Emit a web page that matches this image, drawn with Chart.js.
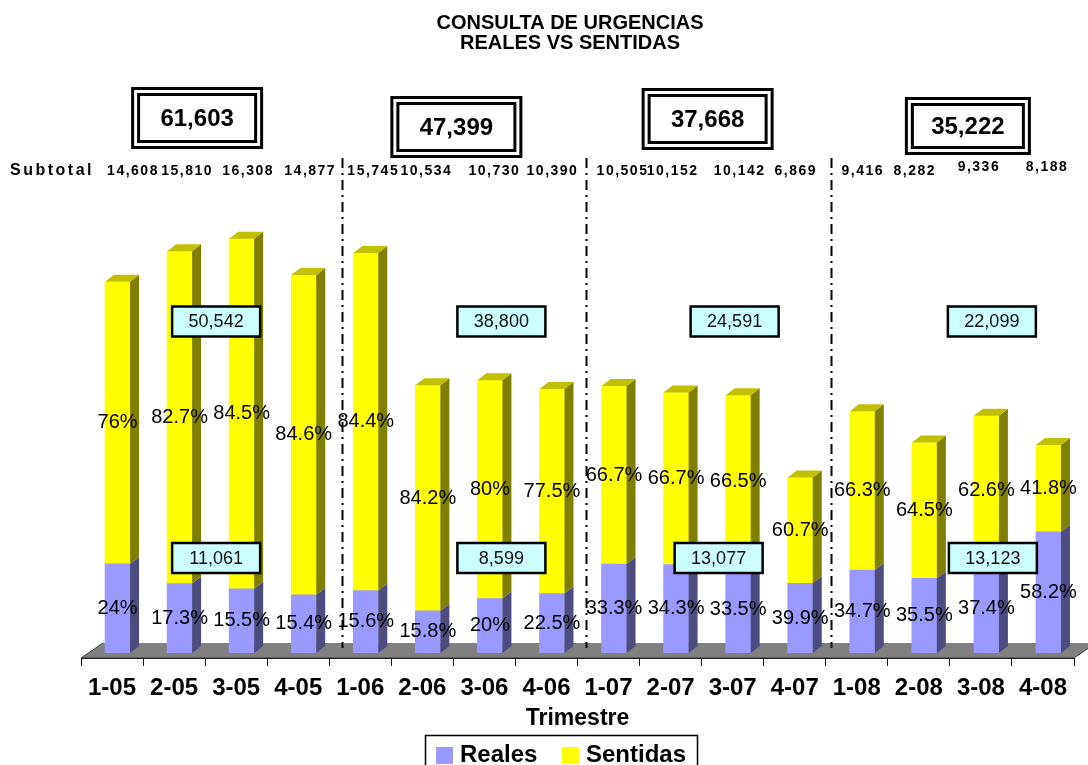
<!DOCTYPE html>
<html>
<head>
<meta charset="utf-8">
<script src="https://cdn.jsdelivr.net/npm/chart.js@4.4.1/dist/chart.umd.min.js"></script>
<style>
  html, body { margin: 0; padding: 0; background: #ffffff; overflow: hidden; }
  canvas { display: block; }
</style>
</head>
<body>
<canvas id="grafica" width="1088" height="765"></canvas>
<script>
// Trimestres (trimestre-año)
const trimestres = ['1-05','2-05','3-05','4-05','1-06','2-06','3-06','4-06',
                    '1-07','2-07','3-07','4-07','1-08','2-08','3-08','4-08'];
// Consultas totales por trimestre
const subtotales = [14608, 15810, 16308, 14877, 15745, 10534, 10730, 10390,
                    10505, 10152, 10142, 6869, 9416, 8282, 9336, 8188];
// Porcentaje de urgencias reales y sentidas por trimestre
const pctReales   = [24, 17.3, 15.5, 15.4, 15.6, 15.8, 20, 22.5,
                     33.3, 34.3, 33.5, 39.9, 34.7, 35.5, 37.4, 58.2];
const pctSentidas = [76, 82.7, 84.5, 84.6, 84.4, 84.2, 80, 77.5,
                     66.7, 66.7, 66.5, 60.7, 66.3, 64.5, 62.6, 41.8];
// Totales anuales (2005-2008)
const totalAnual    = [61603, 47399, 37668, 35222];
const sentidasAnual = [50542, 38800, 24591, 22099];
const realesAnual   = [11061, 8599, 13077, 13123];

// Consultas por tipo = total del trimestre x porcentaje
const reales   = subtotales.map((t, i) => t * pctReales[i] / 100);
const sentidas = subtotales.map((t, i) => t * pctSentidas[i] / 100);

const FUENTE = '"Liberation Sans", Arial, Helvetica, sans-serif';
Chart.defaults.font.family = FUENTE;

const fmt = n => n.toLocaleString('en-US');

// Desplazamiento de las caras frontales (barras sobre el suelo en perspectiva)
const DX = 5.5, DY = -5;
// Profundidad de las barras
const PX = 9, PY = 7;

const COLORES = {
  realFrente: '#9999FF', realLado: '#4C4C80',
  sentFrente: '#FFFF00', sentLado: '#808000', sentTapa: '#C0C000',
  suelo: '#808080', cajaValor: '#CCFFFF'
};

function dobleCaja(ctx, cx, cy, w, h, texto) {
  ctx.save();
  ctx.fillStyle = '#fff';
  ctx.fillRect(cx - w / 2, cy - h / 2, w, h);
  ctx.strokeStyle = '#000';
  ctx.lineWidth = 3;
  ctx.strokeRect(cx - w / 2 + 1.5, cy - h / 2 + 1.5, w - 3, h - 3);
  ctx.strokeRect(cx - w / 2 + 7.5, cy - h / 2 + 7.5, w - 15, h - 15);
  ctx.fillStyle = '#000';
  ctx.font = 'bold 24px ' + FUENTE;
  ctx.textAlign = 'center';
  ctx.textBaseline = 'middle';
  ctx.fillText(texto, cx, cy + 1);
  ctx.restore();
}

function cajaValor(ctx, cx, cy, texto) {
  const w = 88, h = 30;
  ctx.save();
  ctx.fillStyle = COLORES.cajaValor;
  ctx.fillRect(cx - w / 2, cy - h / 2, w, h);
  ctx.strokeStyle = '#000';
  ctx.lineWidth = 2.5;
  ctx.strokeRect(cx - w / 2, cy - h / 2, w, h);
  ctx.fillStyle = '#111';
  ctx.font = '18px ' + FUENTE;
  ctx.textAlign = 'center';
  ctx.textBaseline = 'middle';
  ctx.fillText(texto, cx, cy + 1);
  ctx.restore();
}

const decoracion = {
  id: 'decoracion',
  beforeDraw(chart) {
    const ctx = chart.ctx;
    const x = chart.scales.x;
    ctx.save();
    // Título
    ctx.fillStyle = '#000';
    ctx.font = 'bold 20px ' + FUENTE;
    ctx.textAlign = 'center';
    ctx.textBaseline = 'middle';
    ctx.fillText('CONSULTA DE URGENCIAS', 570, 23);
    ctx.fillText('REALES VS SENTIDAS', 570, 43);

    // Totales anuales en recuadro doble
    const dxCaja = [-8, 3, 6, 18];
    const yCaja = [118, 127, 119, 126];
    const wCaja = [132, 132, 132, 126];
    const hCaja = [62, 62, 62, 58];
    totalAnual.forEach((v, g) => {
      const c = (x.getPixelForValue(4 * g) + x.getPixelForValue(4 * g + 3)) / 2;
      dobleCaja(ctx, c + dxCaja[g], yCaja[g], wCaja[g], hCaja[g], fmt(v));
    });

    // Fila de subtotales
    ctx.fillStyle = '#000';
    ctx.textBaseline = 'middle';
    ctx.textAlign = 'left';
    ctx.font = 'bold 16px ' + FUENTE;
    ctx.letterSpacing = '2.5px';
    ctx.fillText('Subtotal', 10, 171);
    ctx.font = 'bold 14px ' + FUENTE;
    ctx.letterSpacing = '1.5px';
    ctx.textAlign = 'center';
    const dxSub = [21, 13, 12, 12, 13, 4, 10, 6, 14, 2, 7, 1, 6, -4, -2, 4];
    subtotales.forEach((v, i) => {
      const y = i >= 14 ? 167 : 171;
      ctx.fillText(fmt(v), x.getPixelForValue(i) + dxSub[i], y);
    });
    ctx.letterSpacing = '0px';
    ctx.restore();
  },
  beforeDatasetsDraw(chart) {
    const ctx = chart.ctx;
    const a = chart.chartArea;
    const x = chart.scales.x;
    ctx.save();
    // Suelo en perspectiva
    ctx.beginPath();
    ctx.moveTo(a.left, a.bottom);
    ctx.lineTo(a.right, a.bottom);
    ctx.lineTo(a.right + 22, a.bottom - 15);
    ctx.lineTo(a.left + 22, a.bottom - 15);
    ctx.closePath();
    ctx.fillStyle = COLORES.suelo;
    ctx.fill();
    ctx.strokeStyle = '#404040';
    ctx.lineWidth = 1;
    ctx.beginPath();
    ctx.moveTo(a.left + 22, a.bottom - 15);
    ctx.lineTo(a.left, a.bottom);
    ctx.lineTo(a.right, a.bottom);
    ctx.lineTo(a.right + 22, a.bottom - 15);
    ctx.stroke();

    // Separadores de año (raya-punto)
    const paso = x.getPixelForValue(1) - x.getPixelForValue(0);
    const dxSep = [13, 8.5, 5];
    ctx.strokeStyle = '#000';
    ctx.lineWidth = 2;
    ctx.setLineDash([10, 5, 2, 5]);
    dxSep.forEach((d, k) => {
      const xs = Math.round(x.getPixelForValue(4 * (k + 1)) - paso / 2 + d) + 0.5;
      ctx.beginPath();
      ctx.moveTo(xs, 158);
      ctx.lineTo(xs, a.bottom - 10);
      ctx.stroke();
    });
    ctx.setLineDash([]);
    ctx.restore();

    // Caras frontales desplazadas
    ctx.save();
    ctx.translate(DX, DY);
  },
  afterDatasetsDraw(chart) {
    const ctx = chart.ctx;
    const metaR = chart.getDatasetMeta(0).data;
    const metaS = chart.getDatasetMeta(1).data;
    const lado = (el, color) => {
      const r = el.x + el.width / 2;
      ctx.fillStyle = color;
      ctx.beginPath();
      ctx.moveTo(r, el.y);
      ctx.lineTo(r + PX, el.y - PY);
      ctx.lineTo(r + PX, el.base - PY);
      ctx.lineTo(r, el.base);
      ctx.closePath();
      ctx.fill();
    };
    metaR.forEach(el => lado(el, COLORES.realLado));
    metaS.forEach(el => {
      lado(el, COLORES.sentLado);
      const l = el.x - el.width / 2, r = el.x + el.width / 2;
      ctx.fillStyle = COLORES.sentTapa;
      ctx.beginPath();
      ctx.moveTo(l, el.y);
      ctx.lineTo(r, el.y);
      ctx.lineTo(r + PX, el.y - PY);
      ctx.lineTo(l + PX, el.y - PY);
      ctx.closePath();
      ctx.fill();
    });

    // Etiquetas de porcentaje en el centro de cada tramo
    ctx.fillStyle = '#000';
    ctx.font = '20px ' + FUENTE;
    ctx.textAlign = 'center';
    ctx.textBaseline = 'middle';
    metaR.forEach((el, i) => ctx.fillText(pctReales[i] + '%', el.x, (el.y + el.base) / 2));
    metaS.forEach((el, i) => ctx.fillText(pctSentidas[i] + '%', el.x, (el.y + el.base) / 2));
    ctx.restore();

    // Totales anuales por tipo
    const x = chart.scales.x;
    const dxS = [11, 48, 33, 42];
    const dxR = [11, 48, 17, 43];
    sentidasAnual.forEach((v, g) => {
      const c = (x.getPixelForValue(4 * g) + x.getPixelForValue(4 * g + 3)) / 2;
      cajaValor(ctx, c + dxS[g], 321.5, fmt(v));
    });
    realesAnual.forEach((v, g) => {
      const c = (x.getPixelForValue(4 * g) + x.getPixelForValue(4 * g + 3)) / 2;
      cajaValor(ctx, c + dxR[g], 558, fmt(v));
    });

    // Leyenda
    ctx.save();
    ctx.strokeStyle = '#000';
    ctx.lineWidth = 1.5;
    ctx.strokeRect(425.5, 735.5, 272, 40);
    ctx.fillStyle = COLORES.realFrente;
    ctx.fillRect(436, 747, 17, 17);
    ctx.fillStyle = COLORES.sentFrente;
    ctx.fillRect(562, 747, 17, 17);
    ctx.fillStyle = '#000';
    ctx.font = 'bold 24px ' + FUENTE;
    ctx.textAlign = 'left';
    ctx.textBaseline = 'alphabetic';
    ctx.fillText('Reales', 460, 762);
    ctx.fillText('Sentidas', 586, 762);
    ctx.restore();
  }
};

new Chart(document.getElementById('grafica'), {
  type: 'bar',
  data: {
    labels: trimestres,
    datasets: [
      { label: 'Reales', data: reales, backgroundColor: COLORES.realFrente },
      { label: 'Sentidas', data: sentidas, backgroundColor: COLORES.sentFrente }
    ]
  },
  options: {
    responsive: false,
    animation: false,
    devicePixelRatio: 1,
    layout: { padding: { top: 160, left: 81, right: 14, bottom: 32.6 } },
    datasets: { bar: { barThickness: 25, borderWidth: 0 } },
    plugins: {
      legend: { display: false },
      title: { display: false },
      tooltip: { enabled: false }
    },
    scales: {
      x: {
        stacked: true,
        grid: { display: true, drawOnChartArea: false, drawTicks: true, tickLength: 8, color: '#000', offset: true },
        border: { display: true, color: '#000', width: 1 },
        ticks: { color: '#000', padding: 8, maxRotation: 0, autoSkip: false,
                 font: { size: 24, weight: 'bold' } },
        title: { display: true, text: 'Trimestre', color: '#000',
                 font: { size: 23, weight: 'bold' }, padding: { top: -6, bottom: 0 } }
      },
      y: { stacked: true, display: false, min: 0, max: 19600 }
    }
  },
  plugins: [decoracion]
});
</script>
</body>
</html>
